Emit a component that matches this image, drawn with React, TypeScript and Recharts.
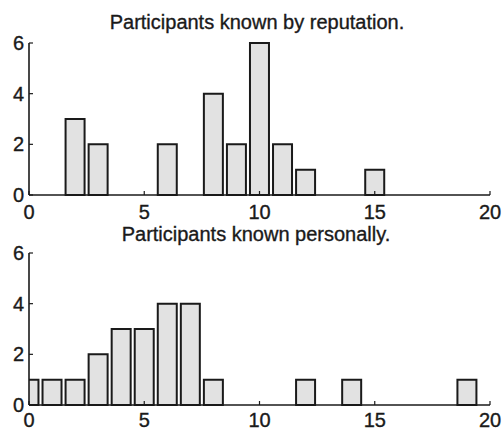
import React from "react";
import { BarChart, Bar, XAxis, YAxis } from "recharts";

const reputationBins = [2, 3, 6, 8, 9, 10, 11, 12, 15];
const reputationCounts = [3, 2, 2, 4, 2, 6, 2, 1, 1];
const personalBins = [0, 1, 2, 3, 4, 5, 6, 7, 8, 12, 14, 19];
const personalCounts = [1, 1, 1, 2, 3, 3, 4, 4, 1, 1, 1, 1];
const xTicks = [0, 5, 10, 15, 20];
const yTicks = [0, 2, 4, 6];
const titles = ["Participants known by reputation.", "Participants known personally."];

const FONT = '"Liberation Sans", Arial, Helvetica, sans-serif';
const INK = "#1a1a1a";

const reputationData = reputationBins.map((b, i) => ({ bin: b, count: reputationCounts[i] }));
const personalData = personalBins.map((b, i) => ({ bin: b, count: personalCounts[i] }));

function Hist({ data, top, height, xTickMargin }: { data: any[]; top: number; height: number; xTickMargin: number }) {
  const tickStyle = { fill: INK, fontSize: 20, fontFamily: FONT, stroke: INK, strokeWidth: 0.35 };
  return (
    <BarChart width={504} height={height} data={data} margin={{ top, right: 14, bottom: 0, left: 0 }}>
      <XAxis
        dataKey="bin"
        type="number"
        domain={[0, 20]}
        ticks={xTicks}
        allowDataOverflow
        height={height - top - 152}
        tickSize={-4}
        tickMargin={xTickMargin}
        axisLine={{ stroke: INK, strokeWidth: 1.6 }}
        tickLine={{ stroke: INK, strokeWidth: 1.2 }}
        tick={tickStyle}
        interval={0}
      />
      <YAxis
        type="number"
        domain={[0, 6]}
        ticks={yTicks}
        width={29}
        tickSize={-4}
        tickMargin={9}
        axisLine={{ stroke: INK, strokeWidth: 1.6 }}
        tickLine={{ stroke: INK, strokeWidth: 1.2 }}
        tick={tickStyle}
        interval={0}
      />
      <Bar
        dataKey="count"
        barSize={19}
        fill="#e2e2e2"
        stroke={INK}
        strokeWidth={2}
        isAnimationActive={false}
      />
    </BarChart>
  );
}

export default function App() {
  return (
    <div
      style={{
        position: "absolute",
        left: 0,
        top: 0,
        width: 504,
        height: 430,
        background: "#fff",
        overflow: "hidden",
      }}
    >
      <div style={{ position: "absolute", left: 0, top: 0 }}>
        <Hist data={reputationData} top={43} height={226} xTickMargin={14} />
      </div>
      <div style={{ position: "absolute", left: 0, top: 215 }}>
        <Hist data={personalData} top={38} height={215} xTickMargin={12} />
      </div>
      <svg
        width={504}
        height={430}
        style={{ position: "absolute", left: 0, top: 0, pointerEvents: "none" }}
      >
        <text x={257} y={29} textAnchor="middle" fontFamily={FONT} fontSize={20} fill={INK} stroke={INK} strokeWidth={0.35}>
          {titles[0]}
        </text>
        <text x={256} y={241} textAnchor="middle" fontFamily={FONT} fontSize={20} fill={INK} stroke={INK} strokeWidth={0.35}>
          {titles[1]}
        </text>
      </svg>
    </div>
  );
}
